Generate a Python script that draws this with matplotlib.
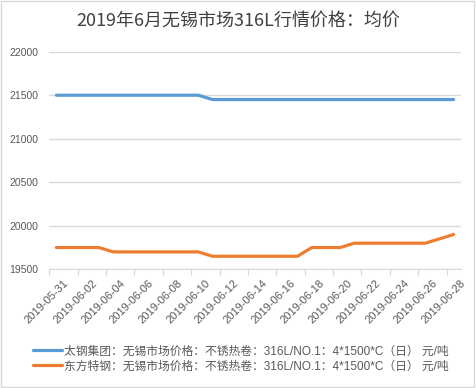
import matplotlib
matplotlib.use("Agg")
import matplotlib.pyplot as plt
import matplotlib.dates as mdates
import matplotlib.patches as patches
from matplotlib.ticker import FixedLocator, FixedFormatter, NullFormatter
from matplotlib.transforms import ScaledTranslation
import pandas as pd

plt.rcParams['font.family'] = ['Liberation Sans', 'Noto Sans CJK SC', 'DejaVu Sans']

# 交易日
dates = ['2019-05-31', '2019-06-03', '2019-06-04', '2019-06-05', '2019-06-06',
         '2019-06-10', '2019-06-11', '2019-06-12', '2019-06-13', '2019-06-14',
         '2019-06-17', '2019-06-18', '2019-06-19', '2019-06-20', '2019-06-21',
         '2019-06-24', '2019-06-25', '2019-06-26', '2019-06-27', '2019-06-28']
taigang = [21500, 21500, 21500, 21500, 21500,
           21500, 21450, 21450, 21450, 21450,
           21450, 21450, 21450, 21450, 21450,
           21450, 21450, 21450, 21450, 21450]
dongfang = [19750, 19750, 19700, 19700, 19700,
            19700, 19650, 19650, 19650, 19650,
            19650, 19750, 19750, 19750, 19800,
            19800, 19800, 19800, 19850, 19900]
series_names = ['太钢集团：无锡市场价格：不锈热卷：316L/NO.1：4*1500*C（日） 元/吨',
                '东方特钢：无锡市场价格：不锈热卷：316L/NO.1：4*1500*C（日） 元/吨']
title = '2019年6月无锡市场316L行情价格：均价'
y_ticks = [19500, 20000, 20500, 21000, 21500, 22000]

grid_c = '#d9d9d9'
text_c = '#595959'

x = pd.to_datetime(dates)
half = pd.Timedelta(hours=12)
label_days = pd.date_range(x[0], x[-1], freq='2D')

fig = plt.figure(figsize=(4.76, 3.88), dpi=100)
ax = fig.add_axes([0.1036, 0.3059, 0.8643, 0.5609])

ax.plot(x, taigang, color='#5B9BD5', lw=2.3, solid_capstyle='round', solid_joinstyle='round',
        label=series_names[0])
ax.plot(x, dongfang, color='#ED7D31', lw=2.3, solid_capstyle='round', solid_joinstyle='round',
        label=series_names[1])

ax.set_xlim(x[0] - half, x[-1] + half)
ax.set_ylim(19500, 22000)
ax.set_yticks(y_ticks)
ax.yaxis.grid(True, color=grid_c, lw=1)
ax.set_axisbelow(True)
ax.tick_params(axis='y', length=0, pad=8, labelsize=7.5, labelcolor=text_c)

# 刻度线在日期之间，标签在日期上
ax.xaxis.set_major_locator(FixedLocator(mdates.date2num(label_days - half)))
ax.xaxis.set_major_formatter(NullFormatter())
ax.xaxis.set_minor_locator(FixedLocator(mdates.date2num(label_days)))
ax.xaxis.set_minor_formatter(FixedFormatter([d.strftime('%Y-%m-%d') for d in label_days]))
ax.tick_params(axis='x', which='major', length=4, color=grid_c, width=1)
ax.tick_params(axis='x', which='minor', length=0, pad=6, labelsize=8, labelcolor=text_c)
for lab in ax.get_xticklabels(minor=True):
    lab.set_rotation(45)
    lab.set_ha('right')
    lab.set_va('top')
    lab.set_rotation_mode('anchor')
    lab.set_transform(lab.get_transform() + ScaledTranslation(7 / 100, 0, fig.dpi_scale_trans))

for s in ['left', 'right', 'top']:
    ax.spines[s].set_visible(False)
ax.spines['bottom'].set_color(grid_c)

fig.text(0.5, 1 - 21.5 / 388, title, ha='center', va='center', fontsize=13,
         color='#404040', family=['Noto Sans CJK SC'])

fig.legend(loc='center left', bbox_to_anchor=(33 / 476, 1 - 359 / 388), frameon=False,
           fontsize=8.5, handlelength=2.45, handletextpad=0.2, labelspacing=0.25,
           borderaxespad=0, borderpad=0, labelcolor=text_c)

fig.patches.append(patches.Rectangle((1 / 476, 1 / 388), 473 / 476, 386 / 388,
                                     transform=fig.transFigure, fill=False,
                                     edgecolor=grid_c, lw=1))

fig.savefig('out.png', dpi=100)
